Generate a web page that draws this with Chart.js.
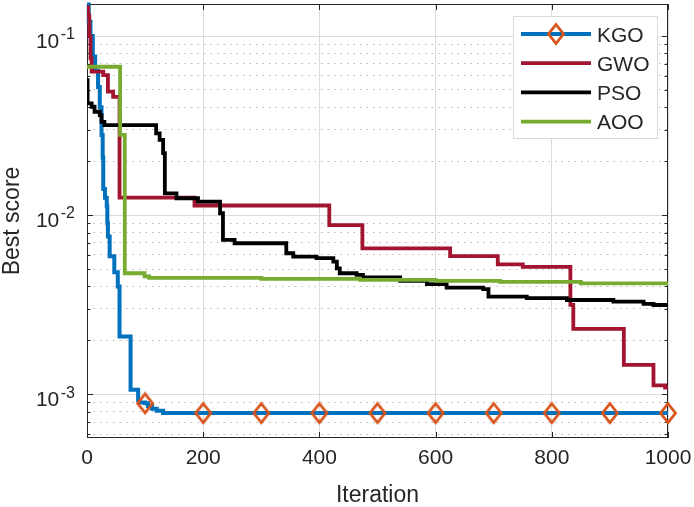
<!DOCTYPE html>
<html><head><meta charset="utf-8">
<script src="https://cdn.jsdelivr.net/npm/chart.js@4.4.1/dist/chart.umd.min.js"></script>
<style>html,body{margin:0;padding:0;background:#fff;}canvas{display:block;}</style>
</head><body>
<canvas id="c" width="694" height="507"></canvas>
<script>
// ---------- data ----------
const seriesNames = ['KGO', 'GWO', 'PSO', 'AOO'];

const kgoIter  = [0, 3, 6, 10, 14, 19, 22, 25, 27, 28, 31, 34, 35, 36, 39, 47, 53, 56, 75, 88, 91, 100, 105, 112, 120, 131, 200, 300, 400, 500, 600, 700, 800, 900, 1000];
const kgoScore = [0.15, 0.12, 0.1, 0.077, 0.064, 0.052, 0.04, 0.028, 0.021, 0.014, 0.0125, 0.0112, 0.009, 0.0076, 0.0059, 0.0048, 0.004, 0.0021, 0.00106, 0.00093, 0.0009, 0.00089, 0.00086, 0.00083, 0.00081, 0.000785, 0.000785, 0.000785, 0.000785, 0.000785, 0.000785, 0.000785, 0.000785, 0.000785, 0.000785];

const gwoIter  = [0, 2, 4, 6, 8, 28, 36, 45, 56, 185, 417, 474, 625, 707, 750, 832, 837, 924, 975, 995, 1000];
const gwoScore = [0.145, 0.13, 0.1, 0.075, 0.0633, 0.0605, 0.0489, 0.0458, 0.01253, 0.01132, 0.0088, 0.00653, 0.00591, 0.00531, 0.00514, 0.00316, 0.00232, 0.00146, 0.00112, 0.00109, 0.00109];

const psoIter  = [0, 1, 8, 13, 22, 25, 30, 119, 125, 131, 134, 154, 191, 229, 234, 254, 343, 355, 395, 424, 430, 435, 464, 475, 539, 585, 619, 682, 691, 757, 826, 906, 958, 975, 1000];
const psoScore = [0.0568, 0.0421, 0.0403, 0.0378, 0.0362, 0.0332, 0.0318, 0.0286, 0.0263, 0.0222, 0.01325, 0.01243, 0.0119, 0.01025, 0.00728, 0.00697, 0.00613, 0.00587, 0.00575, 0.0055, 0.00505, 0.00474, 0.00464, 0.0045, 0.0043, 0.00412, 0.00394, 0.00386, 0.00351, 0.00344, 0.00336, 0.00329, 0.0032, 0.00315, 0.00311];

const aooIter  = [0, 57, 65, 99, 107, 300, 470, 600, 711, 850, 1000];
const aooScore = [0.0674, 0.0281, 0.00474, 0.00455, 0.00446, 0.00441, 0.00435, 0.0043, 0.00424, 0.00416, 0.00408];

const markerIters = [100, 200, 300, 400, 500, 600, 700, 800, 900, 1000];

const xTickValues = [0, 200, 400, 600, 800, 1000];
const yMajorValues = [1e-3, 1e-2, 1e-1];
const yTickExponents = ['-3', '-2', '-1'];
const yMinorValues = [6e-4, 7e-4, 8e-4, 9e-4, 2e-3, 3e-3, 4e-3, 5e-3, 6e-3, 7e-3, 8e-3, 9e-3, 2e-2, 3e-2, 4e-2, 5e-2, 6e-2, 7e-2, 8e-2, 9e-2];
const xMin = 0, xMax = 1000;
const yMin = 5.7e-4, yMax = 0.151;

// ---------- styles ----------
const FONT = "'Liberation Sans', Arial, Helvetica, sans-serif";
const TEXT = '#262626';
const colors = ['#0072BD', '#A2142F', '#000000', '#77AC30'];
const markerColor = '#D95319';

function makeDiamond(hw, hh, lw, color) {
  const c = document.createElement('canvas');
  c.width = Math.ceil(2 * hw + lw + 2);
  c.height = Math.ceil(2 * hh + lw + 2);
  const g = c.getContext('2d');
  const cx = c.width / 2, cy = c.height / 2;
  g.strokeStyle = color; g.lineWidth = lw; g.lineJoin = 'miter';
  g.beginPath();
  g.moveTo(cx, cy - hh); g.lineTo(cx + hw, cy); g.lineTo(cx, cy + hh); g.lineTo(cx - hw, cy); g.closePath();
  g.stroke();
  return c;
}
const diamond = makeDiamond(7.5, 9.5, 2.8, markerColor);

const isMajor = v => Math.abs(Math.log10(v) - Math.round(Math.log10(v))) < 1e-9;
const toPts = (xs, ys) => xs.map((x, i) => ({ x: x, y: ys[i] }));

Chart.defaults.font.family = FONT;
Chart.defaults.color = TEXT;

const matlabPlugin = {
  id: 'matlabAxes',
  beforeDatasetsDraw(chart) {
    const { ctx, chartArea: { left, right, top, bottom }, scales: { x, y } } = chart;
    ctx.save();
    ctx.strokeStyle = TEXT; ctx.lineWidth = 1;
    ctx.strokeRect(Math.round(left) + 0.5, Math.round(top) + 0.5, Math.round(right - left) - 1, Math.round(bottom - top) - 1);
    ctx.beginPath();
    xTickValues.forEach(v => {
      const px = Math.round(x.getPixelForValue(v)) + 0.5;
      ctx.moveTo(px, bottom); ctx.lineTo(px, bottom - 6);
      ctx.moveTo(px, top); ctx.lineTo(px, top + 6);
    });
    yMajorValues.concat(yMinorValues).forEach(v => {
      const py = Math.round(y.getPixelForValue(v)) + 0.5;
      const len = isMajor(v) ? 6 : 3.5;
      ctx.moveTo(left, py); ctx.lineTo(left + len, py);
      ctx.moveTo(right, py); ctx.lineTo(right - len, py);
    });
    ctx.stroke();
    // y tick labels: 10 with superscript exponent
    ctx.fillStyle = TEXT;
    ctx.textBaseline = 'alphabetic';
    yMajorValues.forEach((v, i) => {
      const py = y.getPixelForValue(v);
      ctx.font = '16px ' + FONT;
      ctx.textAlign = 'left';
      const ew = ctx.measureText(yTickExponents[i]).width;
      const ex = 75 - ew;
      ctx.fillText(yTickExponents[i], ex, py + 3.3);
      ctx.font = '21px ' + FONT;
      ctx.textAlign = 'right';
      ctx.fillText('10', ex - 1.5, py + 11.7);
    });
    ctx.restore();
  },
  afterDraw(chart) {
    const ctx = chart.ctx;
    const bx = 513.5, by = 16.5, bw = 144, bh = 122;
    ctx.save();
    ctx.fillStyle = '#ffffff';
    ctx.fillRect(bx, by, bw, bh);
    ctx.strokeStyle = '#d9d9d9'; ctx.lineWidth = 1;
    ctx.strokeRect(bx, by, bw, bh);
    chart.data.datasets.forEach((ds, i) => {
      const ly = 34 + i * 29.2;
      ctx.strokeStyle = ds.borderColor; ctx.lineWidth = ds.borderWidth; ctx.lineCap = 'butt';
      ctx.beginPath(); ctx.moveTo(521, ly); ctx.lineTo(591, ly); ctx.stroke();
      if (i === 0) ctx.drawImage(diamond, 556 - diamond.width / 2, ly - diamond.height / 2);
      ctx.fillStyle = TEXT; ctx.font = '21px ' + FONT; ctx.textAlign = 'left'; ctx.textBaseline = 'middle';
      ctx.fillText(ds.label, 597, ly + 2);
    });
    ctx.restore();
  }
};

const zeroPad = s => { s.paddingLeft = 0; s.paddingRight = 0; s.paddingTop = 0; s.paddingBottom = 0; };

new Chart(document.getElementById('c'), {
  type: 'line',
  data: {
    datasets: [
      { label: seriesNames[0], data: toPts(kgoIter, kgoScore), borderColor: colors[0], borderWidth: 4, order: 4, clip: false,
        pointStyle: diamond, pointRadius: c => (c.raw && markerIters.includes(c.raw.x)) ? 8 : 0, pointHoverRadius: 0 },
      { label: seriesNames[1], data: toPts(gwoIter, gwoScore), borderColor: colors[1], borderWidth: 3.8, order: 3 },
      { label: seriesNames[2], data: toPts(psoIter, psoScore), borderColor: colors[2], borderWidth: 3.8, order: 2 },
      { label: seriesNames[3], data: toPts(aooIter, aooScore), borderColor: colors[3], borderWidth: 3.8, order: 1 }
    ]
  },
  options: {
    responsive: false, animation: false, devicePixelRatio: 1,
    layout: { autoPadding: false, padding: { left: 0, top: 4, right: 26, bottom: 0 } },
    elements: { line: { stepped: true, tension: 0, fill: false, borderJoinStyle: 'miter' }, point: { radius: 0 } },
    plugins: { legend: { display: false }, tooltip: { enabled: false } },
    scales: {
      x: {
        type: 'linear', min: xMin, max: xMax,
        afterBuildTicks: s => { s.ticks = xTickValues.map(v => ({ value: v })); },
        afterFit: s => { s.height = 69; zeroPad(s); },
        ticks: { autoSkip: false, maxRotation: 0, padding: 8, color: TEXT, font: { size: 21 }, callback: v => String(v) },
        grid: { color: '#dcdcdc', lineWidth: 1, drawTicks: false },
        border: { display: false },
        title: { display: true, text: 'Iteration', color: TEXT, font: { size: 23, lineHeight: 1 }, padding: 0 }
      },
      y: {
        type: 'logarithmic', min: yMin, max: yMax,
        afterBuildTicks: s => { s.ticks = yMajorValues.concat(yMinorValues).sort((a, b) => a - b).map(v => ({ value: v, major: isMajor(v) })); },
        afterFit: s => { s.width = 87; zeroPad(s); },
        ticks: { display: false },
        grid: { color: c => (c.tick && !isMajor(c.tick.value)) ? '#b8b8b8' : '#dcdcdc', lineWidth: 1, drawTicks: false },
        border: { display: false, dash: c => (c.tick && !isMajor(c.tick.value)) ? [1.5, 5] : [] },
        title: { display: true, text: 'Best score', color: TEXT, font: { size: 23, lineHeight: 1 }, padding: { top: 1.5, bottom: 0 } }
      }
    }
  },
  plugins: [matlabPlugin]
});
</script>
</body></html>
